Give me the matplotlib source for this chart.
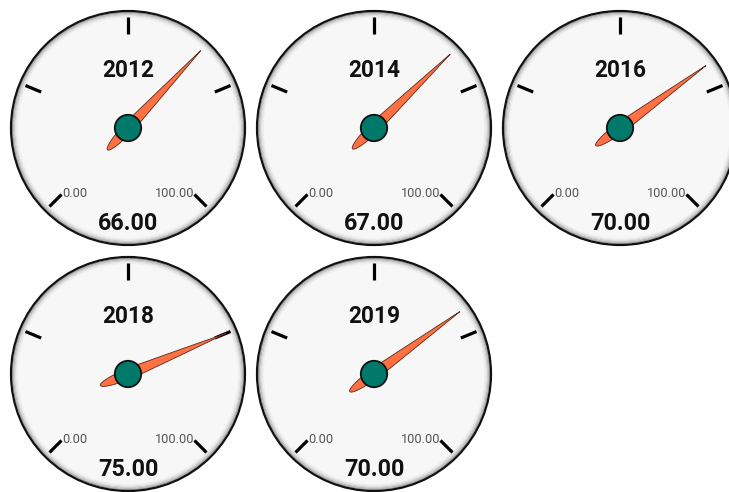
import numpy as np
import matplotlib
matplotlib.use("Agg")
import matplotlib.pyplot as plt
from matplotlib.patches import Circle, Polygon

years = ["2012", "2014", "2016", "2018", "2019"]
values = [66.0, 67.0, 70.0, 75.0, 70.0]
scale_min = 0.0
scale_max = 100.0
tick_values = [0, 25, 50, 75, 100]

W, H = 729, 492
fig = plt.figure(figsize=(W / 100, H / 100), dpi=100)
fig.patch.set_facecolor("white")
ax = fig.add_axes([0, 0, 1, 1])
ax.set_xlim(0, W)
ax.set_ylim(H, 0)
ax.set_aspect("equal")
ax.axis("off")

FONT = "Roboto"
R = 117.0          # dial radius
SPACING = 246.0    # distance between dial centres
START, SWEEP = -135.0, 270.0   # degrees clockwise from 12 o'clock


def polar(cx, cy, ang_deg, r):
    a = np.radians(ang_deg)
    return cx + r * np.sin(a), cy - r * np.cos(a)


def value_angle(v):
    return START + SWEEP * (v - scale_min) / (scale_max - scale_min)


def needle_outline(cx, cy, ang_deg, length=106.0, tail=30.0, half=5.2):
    s_front = np.linspace(0, length, 60)
    h_front = half * (1 - s_front / length) ** 0.95 + 0.4 * (1 - s_front / length)
    s_back = np.linspace(-tail, 0, 40)
    h_back = half * np.sqrt(np.clip(1 - (s_back / tail) ** 2, 0, 1))
    s = np.concatenate([s_back, s_front])
    h = np.concatenate([h_back, h_front])
    a = np.radians(ang_deg)
    ux, uy = np.sin(a), -np.cos(a)
    vx, vy = -uy, ux
    left = np.column_stack([cx + s * ux + h * vx, cy + s * uy + h * vy])
    right = np.column_stack([cx + s * ux - h * vx, cy + s * uy - h * vy])[::-1]
    return np.vstack([left, right])


for i, (year, val) in enumerate(zip(years, values)):
    row, col = divmod(i, 3)
    cx = 128.0 + col * SPACING
    cy = 128.0 + row * SPACING

    # dial face with a soft grey rim inside the black bezel
    ax.add_patch(Circle((cx, cy), R, facecolor="#f7f7f7", edgecolor="none", zorder=1))
    for k, g in enumerate(["#a0a0a0", "#bababa", "#d0d0d0", "#e2e2e2", "#eeeeee"]):
        ax.add_patch(Circle((cx, cy), R - 1.6 - k * 1.1, facecolor="none",
                            edgecolor=g, lw=1.0, zorder=2))
    ax.add_patch(Circle((cx, cy), R, facecolor="none", edgecolor="#111111",
                        lw=1.6, zorder=3))

    # major ticks
    for tv in tick_values:
        ang = value_angle(tv)
        x0, y0 = polar(cx, cy, ang, 94)
        x1, y1 = polar(cx, cy, ang, 111)
        ax.plot([x0, x1], [y0, y1], color="black", lw=2.3,
                solid_capstyle="butt", zorder=4)

    # min / max labels beside the end ticks
    lx, ly = polar(cx, cy, value_angle(scale_min), 94)
    ax.text(lx + 1, ly + 3, f"{scale_min:.2f}", fontsize=9.2, family=FONT,
            color="#555555", ha="left", va="baseline", zorder=5)
    rx, ry = polar(cx, cy, value_angle(scale_max), 94)
    ax.text(rx, ry + 3, f"{scale_max:.2f}", fontsize=9.2, family=FONT,
            color="#555555", ha="right", va="baseline", zorder=5)

    # title and value readout
    ax.text(cx, cy - 57.5, year, fontsize=16.3, family=FONT, weight="bold",
            color="#111111", ha="center", va="center", zorder=5)
    ax.text(cx, cy + 95, f"{val:.2f}", fontsize=16.8, family=FONT, weight="bold",
            color="#111111", ha="center", va="center", zorder=5)

    # needle and hub
    ax.add_patch(Polygon(needle_outline(cx, cy, value_angle(val)), closed=True,
                         facecolor="#ff7043", edgecolor="#5a2a1a", lw=0.6,
                         joinstyle="round", zorder=6))
    ax.add_patch(Circle((cx, cy), 13.2, facecolor="#00796b", edgecolor="#111111",
                        lw=1.3, zorder=7))

fig.savefig("out.png", dpi=100, facecolor="white")
